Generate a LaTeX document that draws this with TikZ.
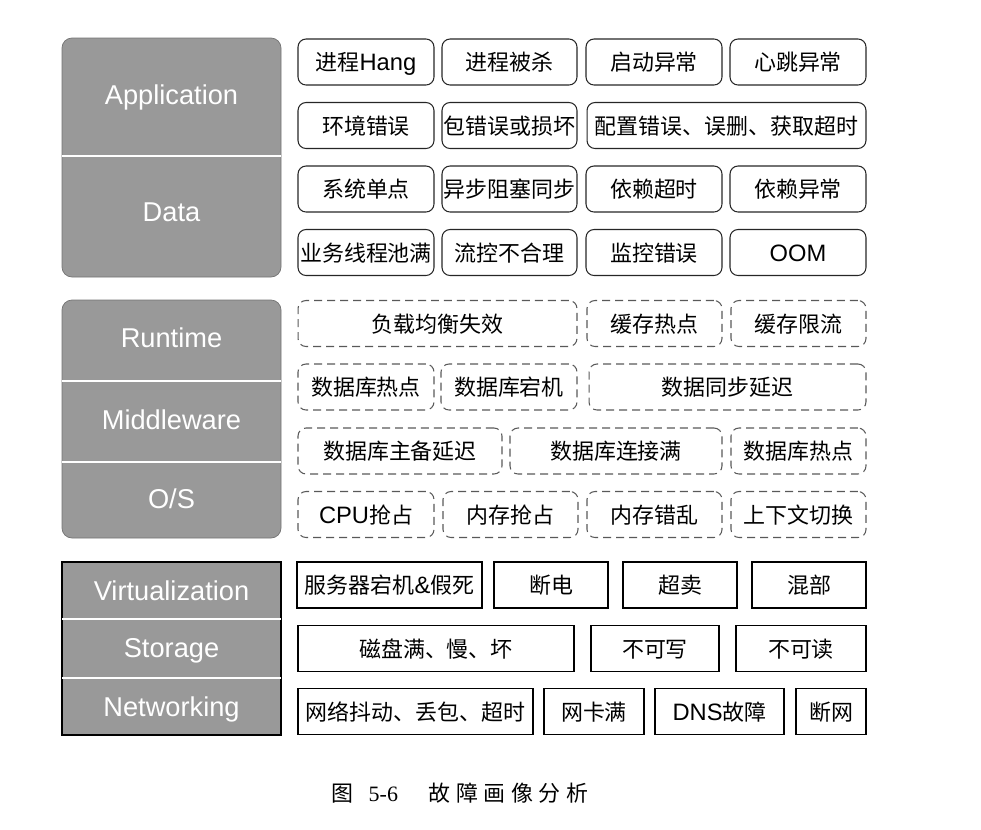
\documentclass[tikz,border=0pt]{standalone}
\usepackage{fontspec}
\setmainfont{Liberation Sans}
\newfontfamily\cjk{Noto Sans CJK SC}
\newfontfamily\latn{Liberation Sans}
\newfontfamily\capserif{Liberation Serif}
\definecolor{layergray}{RGB}{153,153,153}
\newcommand\lt[1]{{\latn\fontsize{13.5}{15}\selectfont #1}}
\tikzset{
  layer/.style={text=white, inner sep=0pt, text height=0.39cm, text depth=0cm,
    font=\fontsize{15.5}{18}\selectfont},
  fault/.style={draw=black!85, line width=0.6pt, rounded corners=0.16cm,
    minimum height=0.92cm, inner sep=0pt, text height=0.4cm, text depth=0.06cm,
    font=\cjk\fontsize{12.5}{14}\selectfont},
  faultdash/.style={fault, draw=black!65, dash pattern=on 0.16cm off 0.1cm},
  faultsq/.style={fault, sharp corners, line width=0.8pt, draw=black},
}
\begin{document}
\begin{tikzpicture}[x=0.02cm, y=-0.02cm]
  \useasboundingbox (0,0) rectangle (981,829);

  % left layer columns
  \draw[draw=black!55, fill=layergray, rounded corners=0.2cm] (62,38) rectangle (281,277);
  \draw[white, line width=0.8pt] (62,156) -- (281,156);
  \draw[draw=black!55, fill=layergray, rounded corners=0.2cm] (62,300) rectangle (281,538);
  \draw[white, line width=0.8pt] (62,381) -- (281,381);
  \draw[white, line width=0.8pt] (62,462) -- (281,462);
  \draw[black, line width=0.8pt, fill=layergray] (62,562) rectangle (281,735);
  \draw[white, line width=0.8pt] (62,619) -- (281,619);
  \draw[white, line width=0.8pt] (62,678) -- (281,678);

  \node[layer] (app) at (171.5,95) {Application};
  \node[layer] (data) at (171.5,212) {Data};
  \node[layer] (runtime) at (171.5,338) {Runtime};
  \node[layer] (middle) at (171.5,420) {Middleware};
  \node[layer] (os) at (171.5,499) {O/S};
  \node[layer] (virt) at (171.5,591) {Virtualization};
  \node[layer] (storage) at (171.5,648) {Storage};
  \node[layer] (net) at (171.5,707) {Networking};

  % application / data
  \node[fault, minimum width=2.72cm] (hang) at (366,62) {进程\lt{Hang}};
  \node[fault, minimum width=2.70cm] (killed) at (509.5,62) {进程被杀};
  \node[fault, minimum width=2.72cm] (startup) at (654,62) {启动异常};
  \node[fault, minimum width=2.72cm] (beat) at (798,62) {心跳异常};
  \node[fault, minimum width=2.72cm] (env) at (366,125.5) {环境错误};
  \node[fault, minimum width=2.70cm] (pkg) at (509.5,125.5) {包错误或损坏};
  \node[fault, minimum width=5.58cm] (conf) at (726.5,125.5) {配置错误、误删、获取超时};
  \node[fault, minimum width=2.72cm] (spof) at (366,189) {系统单点};
  \node[fault, minimum width=2.70cm] (async) at (509.5,189) {异步阻塞同步};
  \node[fault, minimum width=2.72cm] (deptime) at (654,189) {依赖超时};
  \node[fault, minimum width=2.72cm] (deperr) at (798,189) {依赖异常};
  \node[fault, minimum width=2.72cm] (pool) at (366,252.5) {业务线程池满};
  \node[fault, minimum width=2.70cm] (flow) at (509.5,252.5) {流控不合理};
  \node[fault, minimum width=2.72cm] (monitor) at (654,252.5) {监控错误};
  \node[fault, minimum width=2.72cm] (oom) at (798,252.5) {\lt{OOM}};

  % runtime / middleware / os
  \node[faultdash, minimum width=5.58cm] (lb) at (437.5,323.5) {负载均衡失效};
  \node[faultdash, minimum width=2.70cm] (cachehot) at (654.5,323.5) {缓存热点};
  \node[faultdash, minimum width=2.70cm] (cachelim) at (798.5,323.5) {缓存限流};
  \node[faultdash, minimum width=2.72cm] (dbhot) at (366,387) {数据库热点};
  \node[faultdash, minimum width=2.72cm] (dbdown) at (509,387) {数据库宕机};
  \node[faultdash, minimum width=5.54cm] (sync) at (727.5,387) {数据同步延迟};
  \node[faultdash, minimum width=4.08cm] (dblag) at (400,451) {数据库主备延迟};
  \node[faultdash, minimum width=4.24cm] (dbconn) at (616,451) {数据库连接满};
  \node[faultdash, minimum width=2.70cm] (dbhot2) at (798.5,451) {数据库热点};
  \node[faultdash, minimum width=2.72cm] (cpu) at (366,514.5) {\lt{CPU}抢占};
  \node[faultdash, minimum width=2.70cm] (memgrab) at (510.5,514.5) {内存抢占};
  \node[faultdash, minimum width=2.70cm] (memerr) at (654.5,514.5) {内存错乱};
  \node[faultdash, minimum width=2.70cm] (ctx) at (798.5,514.5) {上下文切换};

  % virtualization / storage / networking
  \node[faultsq, minimum width=3.70cm] (crash) at (389.5,585) {服务器宕机\lt{\&}假死};
  \node[faultsq, minimum width=2.28cm] (power) at (551,585) {断电};
  \node[faultsq, minimum width=2.28cm] (oversell) at (680,585) {超卖};
  \node[faultsq, minimum width=2.28cm] (mixed) at (809,585) {混部};
  \node[faultsq, minimum width=5.52cm] (disk) at (436,648.5) {磁盘满、慢、坏};
  \node[faultsq, minimum width=2.56cm] (nowrite) at (655,648.5) {不可写};
  \node[faultsq, minimum width=2.60cm] (noread) at (801,648.5) {不可读};
  \node[faultsq, minimum width=4.70cm] (jitter) at (415.5,711.5) {网络抖动、丢包、超时};
  \node[faultsq, minimum width=2.00cm] (nic) at (594,711.5) {网卡满};
  \node[faultsq, minimum width=2.58cm] (dns) at (719.5,711.5) {\lt{DNS}故障};
  \node[faultsq, minimum width=1.40cm] (down) at (831,711.5) {断网};

  % caption
  \node[inner sep=0pt, font=\cjk\fontsize{12.5}{14}\selectfont] (caption) at (460,793)
    {图\hspace{0.3cm}{\capserif\fontsize{12.5}{14}\selectfont 5-6}\hspace{0.62cm}故\hspace{0.11cm}障\hspace{0.11cm}画\hspace{0.11cm}像\hspace{0.11cm}分\hspace{0.11cm}析};
\end{tikzpicture}
\end{document}
